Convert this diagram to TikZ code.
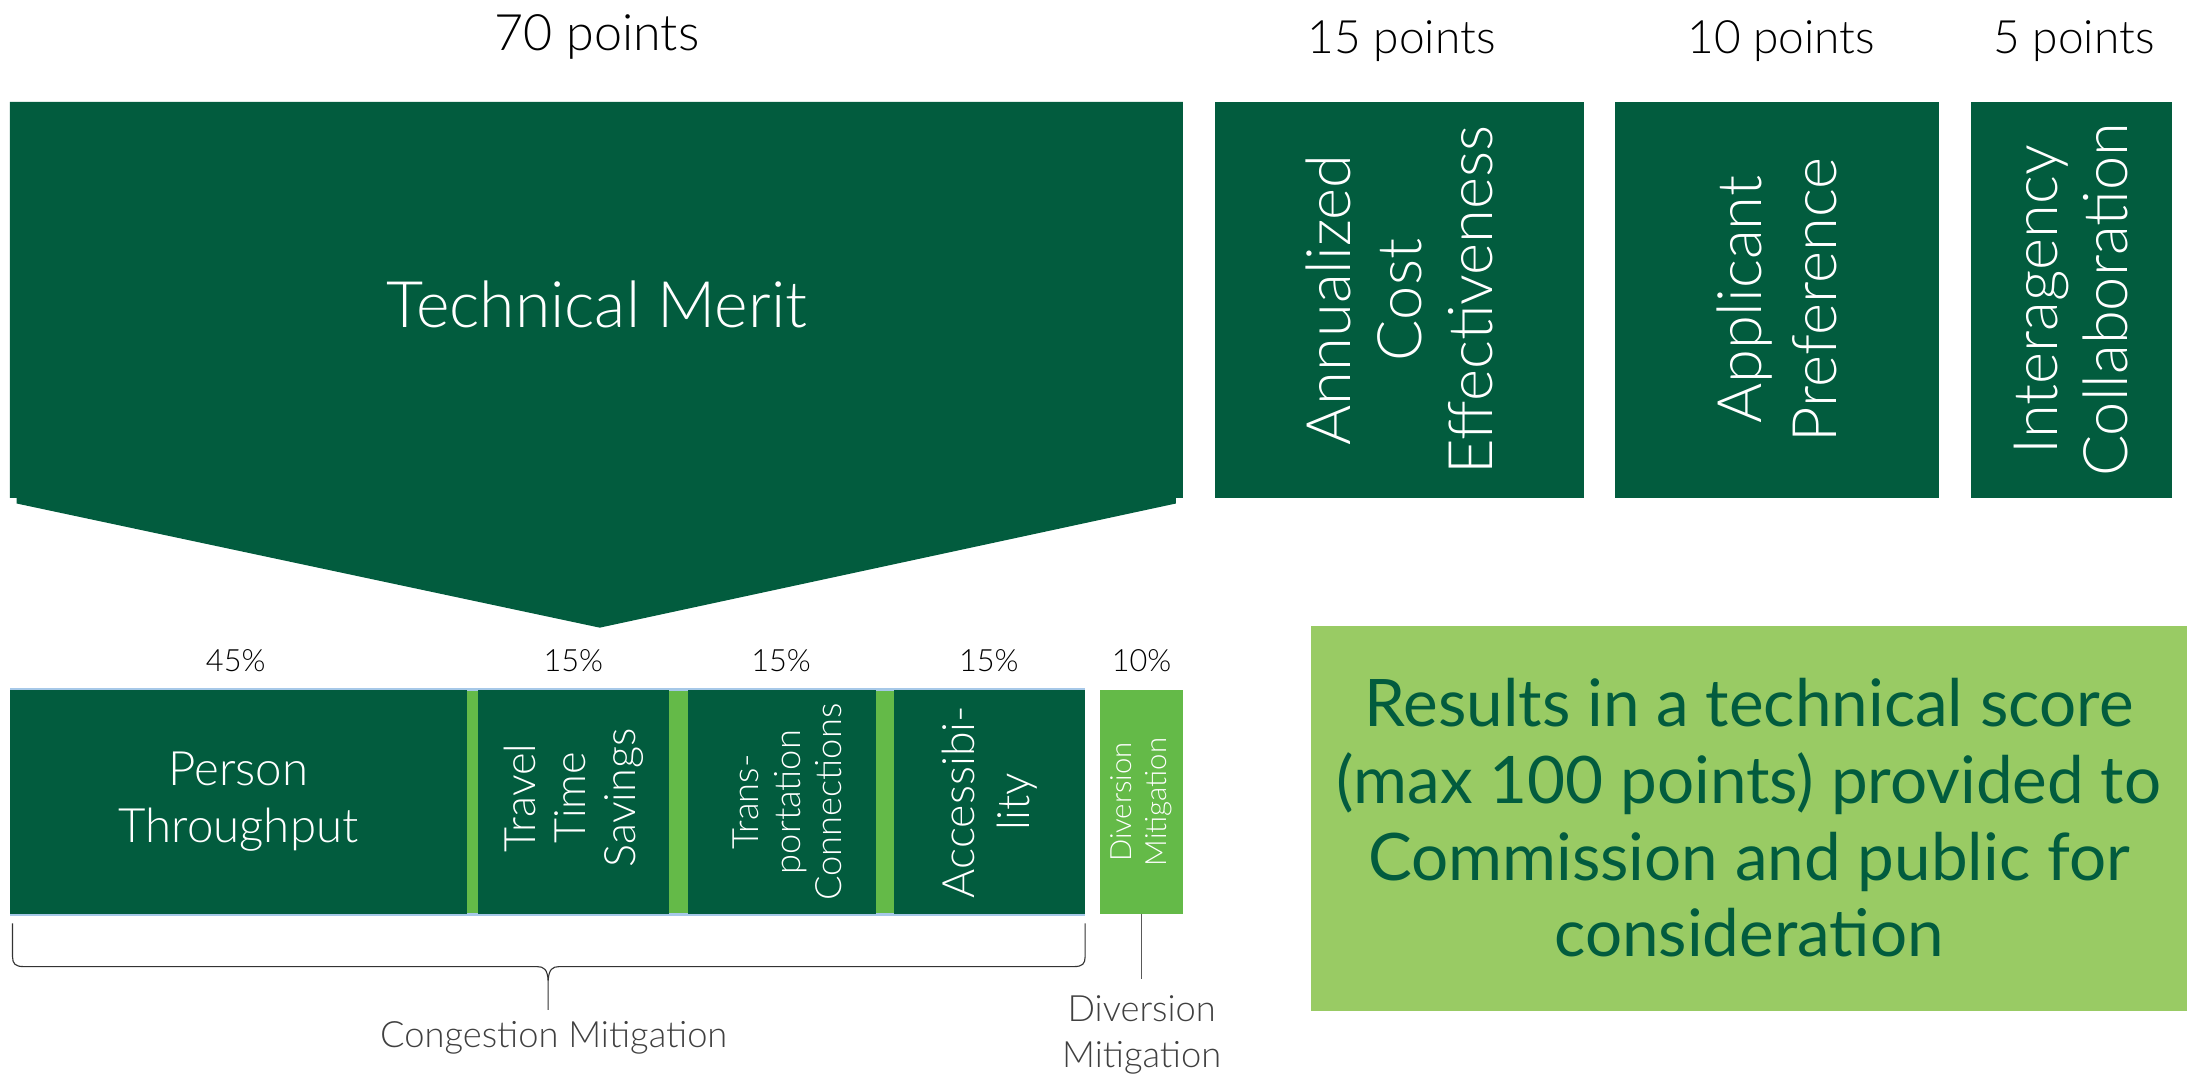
\documentclass[tikz,border=0pt]{standalone}
\usepackage{fontspec}
\setmainfont{Lato Light}
\newfontfamily\latoreg{Lato}
\definecolor{dkgreen}{RGB}{2,92,62}
\definecolor{brgreen}{RGB}{100,186,72}
\definecolor{ltgreen}{RGB}{153,203,100}
\definecolor{ltblue}{RGB}{166,200,232}
\definecolor{txtgray}{RGB}{64,64,64}
\begin{document}
\begin{tikzpicture}[x=1pt,y=-1pt,
  darkbox/.style={fill=dkgreen,draw=none,inner sep=0pt,outer sep=0pt},
  brightbox/.style={fill=brgreen,draw=none,inner sep=0pt,outer sep=0pt},
  wtext/.style={text=white,align=center,inner sep=0pt},
  rtext/.style={text=white,align=center,inner sep=0pt,rotate=90},
  ptlabel/.style={text=black,inner sep=0pt,anchor=base},
  pctlabel/.style={text=black,inner sep=0pt,font=\fontsize{22}{26}\selectfont},
  graylabel/.style={text=txtgray,align=center,inner sep=0pt,font=\fontsize{26}{33}\selectfont},
  bracestyle/.style={draw=black!80,line width=0.8pt},
]
\useasboundingbox (0,0) rectangle (1568,772);

% top labels
\node[ptlabel,font=\fontsize{36}{40}\selectfont] (p70) at (428,36) {70 points};
\node[ptlabel,font=\fontsize{33}{38}\selectfont] (p15) at (1005,38) {15 points};
\node[ptlabel,font=\fontsize{33}{38}\selectfont] (p10) at (1277,38) {10 points};
\node[ptlabel,font=\fontsize{33}{38}\selectfont] (p5) at (1487,38) {5 points};

% technical merit pentagon
\fill[dkgreen] (7,73) -- (848,73) -- (848,357) -- (843,357) -- (843,361) -- (430,450)
  -- (12,361) -- (12,357) -- (7,357) -- cycle;
\node[wtext,font=\fontsize{46}{50}\selectfont] (tm) at (428,218) {Technical Merit};

% other criteria
\node[darkbox,minimum width=265pt,minimum height=284pt] (ace) at (1003.5,215) {};
\node[rtext,font=\fontsize{44}{51}\selectfont] (acet) at (ace.center) {Annualized\\Cost\\Effectiveness};
\node[darkbox,minimum width=232pt,minimum height=284pt] (ap) at (1274,215) {};
\node[rtext,font=\fontsize{44}{54}\selectfont] (apt) at (ap.center) {Applicant\\Preference};
\node[darkbox,minimum width=144pt,minimum height=284pt] (ic) at (1485,215) {};
\node[rtext,font=\fontsize{44}{50}\selectfont] (ict) at (ic.center) {Interagency\\Collaboration};

% bar
\fill[ltblue] (7,493.5) rectangle (778,656.5);
\fill[brgreen] (7,495.5) rectangle (778,654.5);
\node[darkbox,minimum width=328pt,minimum height=160pt,anchor=north west] (pt) at (7,495) {};
\node[darkbox,minimum width=137pt,minimum height=160pt,anchor=north west] (tts) at (343,495) {};
\node[darkbox,minimum width=135pt,minimum height=160pt,anchor=north west] (tc) at (493,495) {};
\node[darkbox,minimum width=137pt,minimum height=160pt,anchor=north west] (acc) at (641,495) {};
\node[brightbox,minimum width=59pt,minimum height=160pt,anchor=north west] (dm) at (789,495) {};

\node[wtext,font=\fontsize{34}{41}\selectfont] (ptt) at (pt.center) {Person\\Throughput};
\node[rtext,font=\fontsize{31}{36}\selectfont] (ttst) at ([yshift=3]tts.center) {Travel\\Time\\Savings};
\node[rtext,font=\fontsize{26}{30}\selectfont] (tct) at ([xshift=4]tc.center) {Trans-\\portation\\Connections};
\node[rtext,font=\fontsize{32}{39}\selectfont] (acct) at (acc.center) {Accessibi-\\lity};
\node[rtext,font=\fontsize{21}{25}\selectfont] (dmt) at (dm.center) {Diversion\\Mitigation};

% percentages
\node[pctlabel] (pc1) at (169,474) {45\%};
\node[pctlabel] (pc2) at (411,474) {15\%};
\node[pctlabel] (pc3) at (560,474) {15\%};
\node[pctlabel] (pc4) at (709,474) {15\%};
\node[pctlabel] (pc5) at (818.5,474) {10\%};

% brace
\coordinate (bl) at (9,662);
\coordinate (br) at (778,662);
\coordinate (btip) at (393,724);
\draw[bracestyle] (bl) -- (9,686) .. controls (9,691) and (11,693) .. (17,693) -- (385,693)
  .. controls (390,693) and (392.5,695) .. (393,703) -- (btip);
\draw[bracestyle] (br) -- (778,686) .. controls (778,691) and (776,693) .. (770,693) -- (401,693)
  .. controls (396,693) and (393.5,695) .. (393,703);
\node[graylabel] (cm) at (397,744) {Congestion Mitigation};

% diversion connector
\node[graylabel] (dml) at (818.5,742) {Diversion\\Mitigation};
\coordinate (dmend) at (818.5,702);
\draw[draw=black!65,line width=0.8pt] (dm.south) -- (dmend);

% results box
\node[fill=ltgreen,draw=none,minimum width=628pt,minimum height=276pt,inner sep=0pt] (res) at (1254,586.5) {};
\node[text=dkgreen,align=center,inner sep=0pt,font=\latoreg\fontsize{47}{55}\selectfont] (rest) at (res.center)
  {Results in a technical score\\(max 100 points) provided to\\Commission and public for\\consideration};
\end{tikzpicture}
\end{document}
